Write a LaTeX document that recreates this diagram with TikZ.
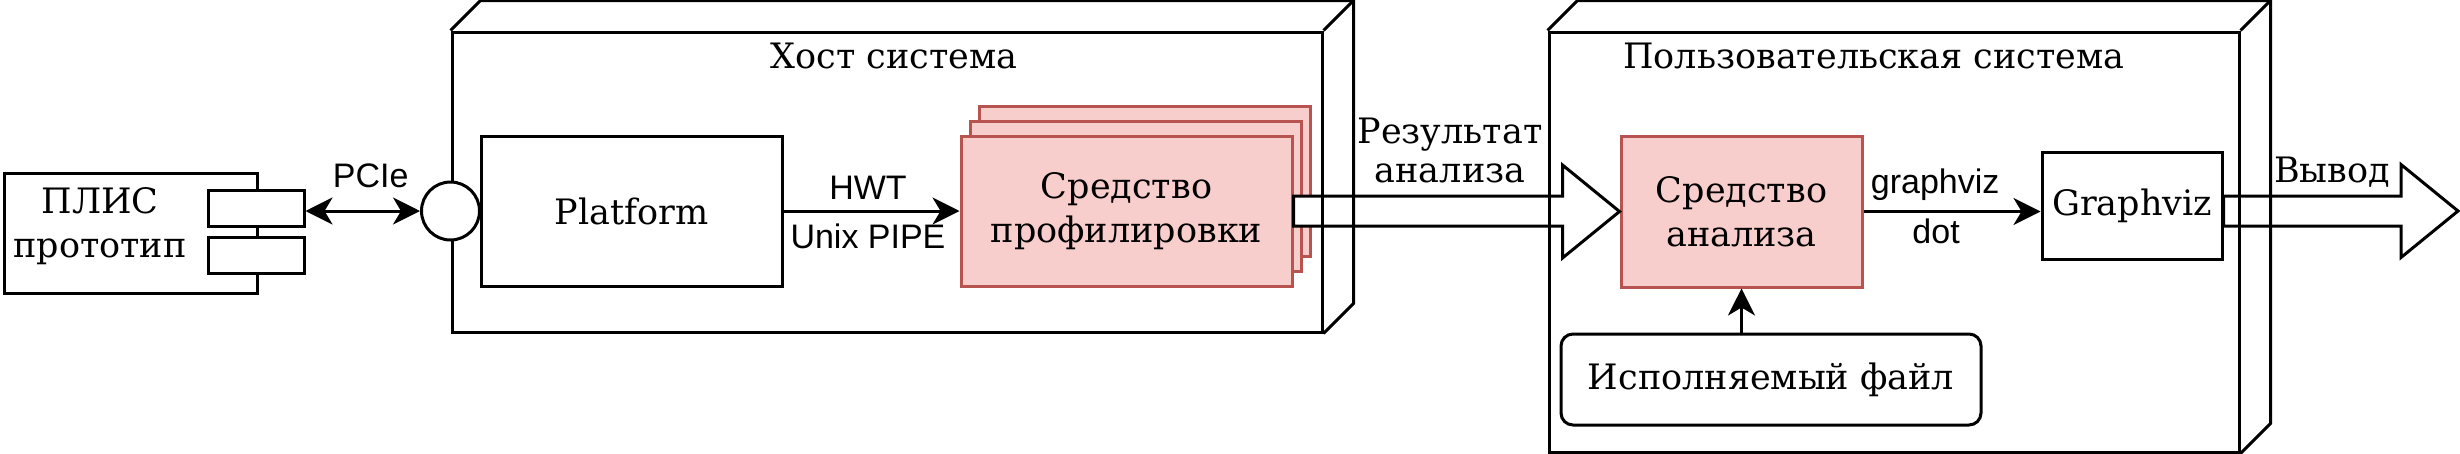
\documentclass[tikz,border=0pt]{standalone}
\usepackage{fontspec}
\setmainfont{DejaVu Serif}
\setsansfont{Liberation Sans}
\usetikzlibrary{arrows.meta,calc,positioning}
\definecolor{toolfill}{HTML}{F8CECC}
\definecolor{toolline}{HTML}{B85450}

\begin{document}
\begin{tikzpicture}[x=1pt,y=-1pt,% pixel grid, y runs downwards
        line width=3pt,
        >={Stealth[length=27pt,width=27pt,inset=8pt]},
        every node/.style={inner sep=0pt},
        box/.style={draw,fill=white,font=\fontsize{35}{44}\selectfont,align=center},
        tool/.style={box,draw=toolline,fill=toolfill},
        pin/.style={draw,fill=white,minimum width=96,minimum height=36},
        port/.style={draw,fill=white,circle,minimum size=58},
        lbl/.style={font=\sffamily\fontsize{34}{40}\selectfont},
        title/.style={font=\fontsize{35}{44}\selectfont,align=center},
        bigarrow/.style={fill=white,to path={let \p1=(\tikztostart),\p2=(\tikztotarget) in
            (\x1,\y1+15pt) -- (\x2-57pt,\y1+15pt) -- (\x2-57pt,\y2+46.5pt) -- (\x2,\y2)
            -- (\x2-57pt,\y2-46.5pt) -- (\x2-57pt,\y1-15pt) -- (\x1,\y1-15pt) -- cycle}}]
\useasboundingbox (0,0) rectangle (2460,453);

% FPGA board with its two pins
\node[draw,minimum width=253,minimum height=120] (fpga) at (130.5,233) {};
\node[title] (fpgatext) at (100,226) {ПЛИС\\прототип};
\foreach \y [count=\i] in {208,255.5}{ %\i is the counter \y is the pin centre
\node[pin] (pin\i) at (256,\y) {};
}

% host side
\node[box,minimum width=301,minimum height=150] (plat) at (631.5,211) {Platform};
\foreach \s in {2,1}{ % copies behind the profiler
\node[tool,minimum width=331,minimum height=150] (prof\s) at ($(1126.5,211)+(9*\s,-15*\s)$) {};
}
\node[tool,minimum width=331,minimum height=150] (prof) at (1126.5,211) {Средство\\профилировки};

% user side
\node[tool,minimum width=241,minimum height=151] (ana) at (1741.5,211.5) {Средство\\анализа};
\node[box,minimum width=180,minimum height=107] (gv) at (2132,205.5) {Graphviz};
\node[box,rounded corners=12pt,minimum width=420,minimum height=91] (exe) at (1771,379.5) {Исполняемый файл};
\coordinate (out) at (2458,211);

% wide arrows, under the system outlines
\draw[bigarrow] (prof.east) to (ana.west);
\draw[bigarrow] (gv.east |- out) to (out);
\node[title,font=\fontsize{35}{39}\selectfont] (restext) at (1450,150) {Результат\\анализа};
\node[title,anchor=base] (outtext) at (2332,182) {Вывод};

% the two systems as 3d boxes
\node[draw,minimum width=870,minimum height=300] (host) at (887,182) {};
\draw (host.north west) -- ++(30,-30) -| ($(host.south east)+(30,-30)$) -- (host.south east);
\draw (host.north east) -- ++(30,-30);
\node[title,anchor=base] (hosttext) at (894,68) {Хост система};

\node[draw,minimum width=690,minimum height=420] (user) at (1894,242) {};
\draw (user.north west) -- ++(30,-30) -| ($(user.south east)+(30,-30)$) -- (user.south east);
\draw (user.north east) -- ++(30,-30);
\node[title,anchor=base] (usertext) at (1874,68) {Пользовательская система};

\node[port] (port) at (host.west |- plat.center) {};

% connectors
\draw[<->] (pin1.east |- port) -- (port.west) node[lbl,pos=0.57,above=22pt] {PCIe};
\draw[->] (plat.east) -- (prof.west)
    node[lbl,pos=0.48,above=10pt] {HWT}
    node[lbl,pos=0.48,below=11pt] {Unix PIPE};
\draw[->] (ana.east) -- (ana.east -| gv.west)
    node[lbl,pos=0.405,above=9pt] {graphviz}
    node[lbl,pos=0.41,below=6pt] {dot};
\draw[->] (exe.north -| ana.south) -- (ana.south);

\end{tikzpicture}
\end{document}
